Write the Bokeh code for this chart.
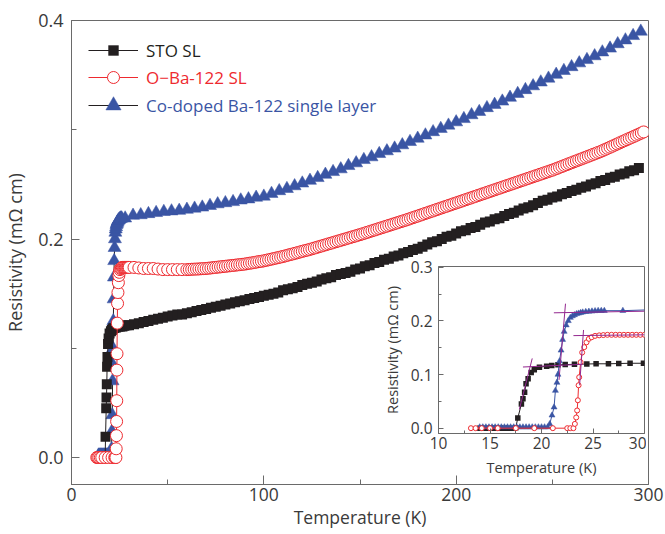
import numpy as np
from bokeh.plotting import figure
from bokeh.models import Range1d, FixedTicker, PrintfTickFormatter, Legend, LegendItem
from bokeh.layouts import column
from bokeh.embed import file_html
from bokeh.resources import INLINE

FONT = "Open Sans"
BLACK = "#231F20"
RED = "#EE2A2F"
BLUE = "#3A55A4"
PURPLE = "#93278F"
AX = "#6a6a6a"
TXT = "#3a3a3a"

# ---------------- data (temperature K, resistivity mOhm cm) ----------------
# STO SL  (low-temperature part, irregular sampling)
sto_T_low = [14.0, 14.4, 14.8, 15.2, 15.6, 16.0, 16.4, 16.8, 17.2, 17.5,
             17.7, 18.05, 18.2, 18.36, 18.5, 18.7, 19.0, 19.3, 19.8, 20.5,
             21.0, 21.6, 22.3, 23.2, 24.4, 25.3, 26.5, 27.5, 28.6, 29.9]
sto_R_low = [0.0, 0.0, 0.0, 0.0, 0.0, 0.0, 0.0, 0.0, 0.0, 0.001,
             0.019, 0.045, 0.055, 0.067, 0.083, 0.092, 0.104, 0.109, 0.1136, 0.1155,
             0.1167, 0.118, 0.1185, 0.119, 0.1196, 0.120, 0.120, 0.1205, 0.121, 0.121]
# STO SL from 32.5 K every 2.5 K
sto_R_high = [0.122, 0.123, 0.124, 0.125, 0.126, 0.127, 0.128, 0.129, 0.130, 0.131,
              0.131, 0.132, 0.133, 0.134, 0.135, 0.136, 0.137, 0.138, 0.139, 0.140,
              0.141, 0.142, 0.143, 0.144, 0.145, 0.146, 0.147, 0.148, 0.149, 0.150,
              0.151, 0.153, 0.154, 0.155, 0.156, 0.158, 0.159, 0.160, 0.161, 0.163,
              0.164, 0.165, 0.167, 0.168, 0.169, 0.170, 0.172, 0.173, 0.175, 0.176,
              0.178, 0.179, 0.181, 0.182, 0.184, 0.185, 0.187, 0.188, 0.190, 0.191,
              0.193, 0.195, 0.197, 0.198, 0.200, 0.202, 0.203, 0.205, 0.207, 0.208,
              0.210, 0.211, 0.213, 0.215, 0.216, 0.218, 0.219, 0.221, 0.223, 0.224,
              0.226, 0.228, 0.229, 0.231, 0.233, 0.235, 0.236, 0.238, 0.239, 0.241,
              0.242, 0.244, 0.245, 0.247, 0.248, 0.250, 0.251, 0.253, 0.254, 0.256,
              0.257, 0.259, 0.260, 0.262, 0.263, 0.265]

# O-Ba-122 SL
oba_T_low = [13.15, 13.6, 14.2, 15.0, 15.75, 17.5, 19.3, 21.1, 22.5, 22.8,
             23.1, 23.24, 23.37, 23.46, 23.53, 23.6, 23.66, 23.8, 23.95, 24.15,
             24.37, 24.6, 24.87, 25.2, 25.6, 26.0, 26.4, 26.8, 27.2, 27.6,
             28.0, 28.4, 28.8, 29.2, 29.6, 30.0]
oba_R_low = [0.0, 0.0, 0.0, 0.0, 0.0, 0.0, 0.0, 0.0, 0.0, 0.0,
             0.0, 0.008, 0.020, 0.033, 0.052, 0.080, 0.095, 0.123, 0.141, 0.151,
             0.160, 0.1665, 0.1695, 0.172, 0.173, 0.1735, 0.174, 0.174, 0.174, 0.174,
             0.174, 0.174, 0.174, 0.174, 0.174, 0.174]
# O-Ba-122 SL from 32.5 K to 60 K every 2.5 K
oba_R_mid = [0.174, 0.1735, 0.173, 0.173, 0.173, 0.1725, 0.172, 0.172, 0.172, 0.172,
             0.172, 0.172]
# O-Ba-122 SL from 61.25 K every 1.25 K
oba_R_high = [0.1721, 0.1723, 0.1724, 0.1725, 0.1726, 0.1728, 0.1729, 0.1730,
              0.1733, 0.1735, 0.1738, 0.1740, 0.1743, 0.1745, 0.1748, 0.1750,
              0.1753, 0.1755, 0.1758, 0.1760, 0.1763, 0.1765, 0.1768, 0.1770,
              0.1774, 0.1778, 0.1781, 0.1785, 0.1789, 0.1793, 0.1796, 0.1800,
              0.1805, 0.1810, 0.1815, 0.1820, 0.1825, 0.1830, 0.1835, 0.1840,
              0.1846, 0.1852, 0.1858, 0.1863, 0.1869, 0.1875, 0.1881, 0.1887,
              0.1893, 0.1898, 0.1904, 0.1910,
              0.1917, 0.1923, 0.1930, 0.1936, 0.1943, 0.1949, 0.1956, 0.1962,
              0.1969, 0.1975, 0.1982, 0.1988, 0.1995, 0.2001, 0.2008, 0.2014,
              0.2021, 0.2027, 0.2034, 0.2040,
              0.2047, 0.2054, 0.2061, 0.2068, 0.2075, 0.2082, 0.2089, 0.2096,
              0.2103, 0.2110, 0.2117, 0.2124, 0.2131, 0.2138, 0.2145, 0.2152,
              0.2159, 0.2166, 0.2173, 0.2180,
              0.2188, 0.2195, 0.2203, 0.2210, 0.2218, 0.2225, 0.2233, 0.2240,
              0.2248, 0.2255, 0.2263, 0.2270, 0.2278, 0.2285, 0.2293, 0.2300,
              0.2308, 0.2315, 0.2323, 0.2330,
              0.2338, 0.2345, 0.2353, 0.2360, 0.2368, 0.2375, 0.2383, 0.2390,
              0.2398, 0.2405, 0.2413, 0.2420, 0.2428, 0.2435, 0.2443, 0.2450,
              0.2458, 0.2465, 0.2473, 0.2480,
              0.2488, 0.2495, 0.2503, 0.2510, 0.2518, 0.2525, 0.2533, 0.2540,
              0.2548, 0.2555, 0.2563, 0.2570, 0.2578, 0.2585, 0.2593, 0.2600,
              0.2608, 0.2615, 0.2623, 0.2630,
              0.2639, 0.2647, 0.2656, 0.2664, 0.2673, 0.2681, 0.2690, 0.2698,
              0.2707, 0.2715, 0.2724, 0.2732, 0.2741, 0.2749, 0.2758, 0.2766,
              0.2775, 0.2783, 0.2792, 0.2800,
              0.2810, 0.2820, 0.2830, 0.2840, 0.2850, 0.2860, 0.2870, 0.2880,
              0.2890, 0.2900, 0.2910, 0.2920, 0.2930, 0.2940, 0.2950, 0.2960,
              0.2970, 0.2980]

# Co-doped Ba-122 single layer
co_T_low = [14.0, 14.3, 14.6, 14.9, 15.2, 15.5, 15.8, 16.1, 16.4, 16.7,
            17.0, 17.3, 17.6, 17.9, 18.2, 18.5, 18.8, 19.1, 19.4, 19.7,
            20.0, 20.3, 20.6, 20.8, 21.02, 21.22, 21.35, 21.5, 21.6, 21.75,
            21.9, 22.05, 22.2, 22.4, 22.6, 22.8, 23.0, 23.2, 23.4, 23.6,
            23.8, 24.0, 24.3, 24.6, 24.9, 25.2, 25.5, 25.8, 26.1, 27.9]
co_R_low = [0.002, 0.002, 0.002, 0.002, 0.002, 0.002, 0.002, 0.002, 0.002, 0.002,
            0.002, 0.002, 0.002, 0.002, 0.002, 0.002, 0.002, 0.002, 0.002, 0.002,
            0.002, 0.002, 0.002, 0.008, 0.024, 0.039, 0.070, 0.085, 0.100, 0.125,
            0.145, 0.165, 0.180, 0.192, 0.200, 0.206, 0.209, 0.211, 0.213, 0.214,
            0.215, 0.216, 0.217, 0.2175, 0.218, 0.2185, 0.219, 0.219, 0.219, 0.219]
# Co-doped from 32 K every 4 K
co_R_high = [0.2215, 0.222, 0.223, 0.224, 0.225, 0.2255, 0.226, 0.227, 0.228, 0.229,
             0.2305, 0.232, 0.233, 0.234, 0.2355, 0.2365, 0.238, 0.239, 0.2415, 0.244,
             0.246, 0.2485, 0.251, 0.2535, 0.256, 0.259, 0.2615, 0.264, 0.267, 0.2695,
             0.2725, 0.275, 0.278, 0.2805, 0.283, 0.286, 0.289, 0.292, 0.295, 0.298,
             0.301, 0.304, 0.307, 0.310, 0.3135, 0.3165, 0.320, 0.323, 0.326, 0.3295,
             0.333, 0.3365, 0.340, 0.3435, 0.347, 0.3505, 0.354, 0.3575, 0.361, 0.364,
             0.3675, 0.371, 0.3745, 0.3785, 0.382, 0.386, 0.390]

# tangent lines used in the inset (Tc construction)
tan_sto_flat_T = [18.2, 24.0];   tan_sto_flat_R = [0.114, 0.119]
tan_sto_steep_T = [17.85, 19.1]; tan_sto_steep_R = [0.035, 0.130]
tan_co_flat_T = [21.2, 30.0];    tan_co_flat_R = [0.215, 0.218]
tan_co_steep_T = [21.7, 22.33];  tan_co_steep_R = [0.090, 0.232]
tan_oba_flat_T = [23.1, 30.0];   tan_oba_flat_R = [0.1725, 0.174]
tan_oba_steep_T = [23.7, 24.08]; tan_oba_steep_R = [0.080, 0.183]

labels = ["STO SL", "O\u2212Ba-122 SL", "Co-doped Ba-122 single layer"]
x_ticks_main = [0, 100, 200, 300]
y_ticks_main = [0.0, 0.2, 0.4]
x_ticks_inset = [10, 15, 20, 25, 30]
y_ticks_inset = [0.0, 0.1, 0.2, 0.3]

sto_T = np.concatenate([sto_T_low, 32.5 + 2.5 * np.arange(len(sto_R_high))])
sto_R = np.concatenate([sto_R_low, sto_R_high])
oba_T = np.concatenate([oba_T_low, 32.5 + 2.5 * np.arange(len(oba_R_mid)),
                        61.25 + 1.25 * np.arange(len(oba_R_high))])
oba_R = np.concatenate([oba_R_low, oba_R_mid, oba_R_high])
co_T = np.concatenate([co_T_low, 32.0 + 4.0 * np.arange(len(co_R_high))])
co_R = np.concatenate([co_R_low, co_R_high])


def style_axis(ax, fs, maj, mn, lab_fs=None):
    ax.axis_line_color = AX
    ax.major_tick_line_color = AX
    ax.minor_tick_line_color = AX
    ax.major_tick_in = maj
    ax.major_tick_out = 0
    ax.minor_tick_in = mn
    ax.minor_tick_out = 0
    ax.major_label_text_font = FONT
    ax.major_label_text_font_size = fs
    ax.major_label_text_color = TXT
    ax.axis_label_text_font = FONT
    ax.axis_label_text_font_style = "normal"
    ax.axis_label_text_color = TXT
    if lab_fs:
        ax.axis_label_text_font_size = lab_fs


# ---------------- main figure ----------------
p = figure(frame_width=577, frame_height=464,
           min_border_left=63, min_border_right=16, min_border_top=20, min_border_bottom=48,
           x_range=Range1d(0, 300), y_range=Range1d(-0.0247, 0.4),
           output_backend="svg", toolbar_location=None)
p.grid.visible = False
p.outline_line_color = AX
p.background_fill_color = "white"
p.border_fill_color = "white"

p.xaxis.ticker = FixedTicker(ticks=x_ticks_main, minor_ticks=[50, 150, 250])
p.yaxis.ticker = FixedTicker(ticks=y_ticks_main, minor_ticks=[0.1, 0.3])
p.yaxis.formatter = PrintfTickFormatter(format="%.1f")
style_axis(p.xaxis[0], "17.5px", 9, 5, "17.5px")
style_axis(p.yaxis[0], "18px", 8, 5, "18px")
p.xaxis.major_label_standoff = 3
p.xaxis.axis_label = "Temperature (K)"
p.xaxis.axis_label_standoff = 1
p.yaxis.major_label_standoff = 8
p.yaxis.axis_label = "Resistivity (m\u03a9 cm)"
p.yaxis.axis_label_standoff = 8

co_line = p.line(co_T, co_R, line_color=BLACK, line_width=1)
co_pts = p.scatter(co_T, co_R, marker="triangle", size=13, fill_color=BLUE, line_color=BLUE, line_width=0.5)
sto_line = p.line(sto_T, sto_R, line_color=BLACK, line_width=1)
sto_pts = p.scatter(sto_T, sto_R, marker="square", size=10, fill_color=BLACK, line_color=BLACK, line_width=0)
oba_line = p.line(oba_T, oba_R, line_color=RED, line_width=1)
oba_pts = p.scatter(oba_T, oba_R, marker="circle", size=12, fill_color="white", line_color=RED, line_width=1)

for lab, rends, col, vy, gh in [(labels[0], [sto_line, sto_pts], BLACK, 421, 26),
                                 (labels[1], [oba_line, oba_pts], RED, 392, 30),
                                 (labels[2], [co_line, co_pts], BLUE, 360, 38)]:
    leg = Legend(items=[LegendItem(label=lab, renderers=rends)], location=(17, vy),
                 glyph_width=50, glyph_height=gh, label_height=gh, label_standoff=8,
                 padding=0, margin=0, spacing=0, border_line_color=None,
                 background_fill_alpha=0, label_text_color=col, label_text_font=FONT,
                 label_text_font_size="17px")
    p.add_layout(leg)

# ---------------- inset ----------------
ins = figure(frame_width=206, frame_height=167,
             min_border_left=56, min_border_right=14, min_border_top=12, min_border_bottom=50,
             x_range=Range1d(10, 30), y_range=Range1d(-0.0099, 0.3013),
             output_backend="svg", toolbar_location=None)
ins.grid.visible = False
ins.outline_line_color = AX
ins.background_fill_color = "white"
ins.border_fill_alpha = 0
ins.xaxis.ticker = FixedTicker(ticks=x_ticks_inset, minor_ticks=[12.5, 17.5, 22.5, 27.5])
ins.yaxis.ticker = FixedTicker(ticks=y_ticks_inset, minor_ticks=[0.05, 0.15, 0.25])
ins.yaxis.formatter = PrintfTickFormatter(format="%.1f")
style_axis(ins.xaxis[0], "15.5px", 5, 3, "14.5px")
style_axis(ins.yaxis[0], "15.5px", 5, 3, "14.5px")
ins.xaxis.axis_label = "Temperature (K)"
ins.yaxis.axis_label = "Resistivity (m\u03a9 cm)"
ins.xaxis.major_label_standoff = 3
ins.yaxis.major_label_standoff = 6
ins.xaxis.axis_label_standoff = 6
ins.yaxis.axis_label_standoff = 6

ins.line(sto_T, sto_R, line_color=BLACK, line_width=1)
ins.scatter(sto_T, sto_R, marker="square", size=5.5, fill_color=BLACK, line_color=BLACK, line_width=0)
ins.line(co_T, co_R, line_color=BLUE, line_width=1)
ins.scatter(co_T, co_R, marker="triangle", size=6, fill_color=BLUE, line_color=BLUE, line_width=0.5)
ins.line(oba_T, oba_R, line_color=RED, line_width=1)
ins.scatter(oba_T, oba_R, marker="circle", size=5, fill_color="white", line_color=RED, line_width=1)
for tx, ty in [(tan_sto_flat_T, tan_sto_flat_R), (tan_sto_steep_T, tan_sto_steep_R),
               (tan_co_flat_T, tan_co_flat_R), (tan_co_steep_T, tan_co_steep_R),
               (tan_oba_flat_T, tan_oba_flat_R), (tan_oba_steep_T, tan_oba_steep_R)]:
    ins.line(tx, ty, line_color=PURPLE, line_width=1)

ins.styles = {"position": "absolute", "left": "367px", "top": "254px"}

layout = column(p, ins)
open("out.html", "w").write(file_html(layout, INLINE))
